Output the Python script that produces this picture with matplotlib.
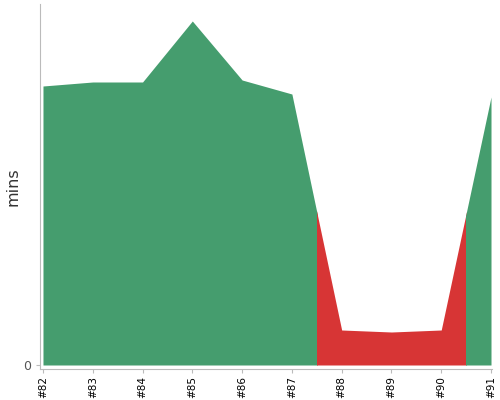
import matplotlib
matplotlib.use("Agg")
import matplotlib.pyplot as plt
from matplotlib.patches import Rectangle

# build numbers, durations (mins) and outcome per build
builds = ["#82", "#83", "#84", "#85", "#86", "#87", "#88", "#89", "#90", "#91"]
durations = [27.9, 28.3, 28.3, 34.4, 28.5, 27.1, 3.5, 3.3, 3.5, 26.8]
status = ["ok", "ok", "ok", "ok", "ok", "ok", "fail", "fail", "fail", "ok"]

colors = {"ok": "#459d6e", "fail": "#d73535"}

fig = plt.figure(figsize=(5, 4), dpi=100)
ax = fig.add_axes([0.079, 0.0775, 0.905, 0.9125])

x = list(range(len(builds)))
n = len(x)

# group consecutive builds with same status, colour each half-way to neighbours
runs = []
start = 0
for i in range(1, n + 1):
    if i == n or status[i] != status[start]:
        runs.append((start, i - 1, status[start]))
        start = i

for a, b, s in runs:
    x0 = max(a - 0.5, 0)
    x1 = min(b + 0.5, n - 1)
    poly = ax.fill_between(x, 0, durations, color=colors[s], linewidth=0)
    clip = Rectangle((x0, -10), x1 - x0, 100, transform=ax.transData)
    poly.set_clip_path(clip)

ax.set_xlim(-0.07, n - 1 + 0.02)
ax.set_ylim(-0.4, 36.1)

ax.set_xticks(x)
ax.set_xticklabels(builds, rotation=90, fontsize=7.5, color="black")
ax.set_yticks([0])
ax.set_yticklabels(["0"], fontsize=9, color="#555555")
ax.set_ylabel("mins", fontsize=11.5, color="#333333", labelpad=2)

for side in ["top", "right"]:
    ax.spines[side].set_visible(False)
for side in ["left", "bottom"]:
    ax.spines[side].set_color("#bbbbbb")
ax.tick_params(axis="x", length=3, color="#bbbbbb", pad=2)
ax.tick_params(axis="y", length=3, color="#bbbbbb", pad=3)

fig.savefig("out.png", dpi=100)
